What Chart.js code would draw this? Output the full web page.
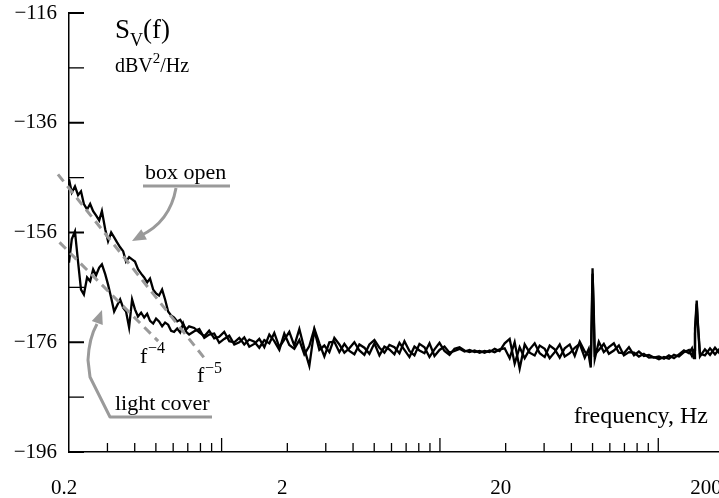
<!DOCTYPE html>
<html>
<head>
<meta charset="utf-8">
<script src="https://cdn.jsdelivr.net/npm/chart.js@4.4.1/dist/chart.umd.min.js"></script>
<style>
  html, body { margin: 0; padding: 0; background: #fff; overflow: hidden; }
  #wrap { position: relative; width: 730px; height: 498px; }
</style>
</head>
<body>
<div id="wrap"><canvas id="myChart"></canvas></div>
<script>
// frequency, Hz (shared by both traces)
const freq = [
  0.200, 0.206, 0.213, 0.220, 0.227, 0.234, 0.242, 0.250, 0.258, 0.266,
  0.275, 0.283, 0.293, 0.302, 0.312, 0.322, 0.332, 0.343, 0.354, 0.365,
  0.377, 0.389, 0.401, 0.414, 0.428, 0.442, 0.456, 0.470, 0.486, 0.501,
  0.517, 0.534, 0.551, 0.569, 0.587, 0.606, 0.626, 0.646, 0.667, 0.688, 0.710,
  0.749, 0.790, 0.833, 0.877, 0.925, 0.975, 1.028, 1.084, 1.143, 1.205,
  1.270, 1.339, 1.412, 1.488, 1.569, 1.654, 1.743, 1.838, 1.937, 2.042,
  2.153, 2.270, 2.393, 2.522, 2.659, 2.803, 2.955, 3.115, 3.284, 3.462,
  3.650, 3.848, 4.056, 4.276, 4.508, 4.752, 5.010, 5.282, 5.568, 5.870,
  6.188, 6.524, 6.877, 7.250, 7.643, 8.058, 8.495, 8.955, 9.441, 9.953,
  10.49, 11.06, 11.66, 12.30, 12.96, 13.67, 14.41, 15.19, 16.01, 16.88,
  17.80, 18.76, 19.79, 20.86, 21.99, 23.18, 24.44, 25.76, 27.16, 28.63,
  30.19, 31.82, 33.55, 35.37, 37.28, 39.31, 41.44, 43.68, 46.05,
  48.04, 49.07, 49.59, 50.0, 50.64, 51.18,
  53.4, 56.3, 59.4, 62.6, 66.0, 69.6, 73.4, 77.4, 81.5, 85.9,
  90.6, 95.5, 100.7, 106.2, 111.9, 118.0, 124.4, 131.1, 138.2,
  142.7, 145.8, 147.3, 150.0, 151.9, 155.2,
  163.6, 172.6, 181.9, 191.8, 200
];

// S_V(f), dBV^2/Hz, box open
const boxOpen = [
  -146.3, -148.7, -147.6, -149.2, -148.5, -150.8, -151.8, -150.8, -152.1, -152.9,
  -153.8, -152.1, -155.4, -157.6, -156.0, -156.9, -157.8, -158.7, -159.4, -161.3,
  -160.5, -160.9, -161.3, -162.7, -163.5, -164.2, -165.1, -164.4, -166.4, -167.1,
  -167.5, -166.4, -168.2, -170.4, -171.1, -171.5, -172.2, -171.9, -172.8, -173.7, -173.1,
  -173.4, -174.2, -174.9, -173.9, -175.3, -175.0, -174.1, -175.8, -176.0, -175.2,
  -176.4, -175.5, -175.9, -177.0, -175.6, -176.2, -174.3, -176.9, -175.5, -174.1,
  -176.6, -173.6, -177.2, -180.3, -173.8, -177.4, -176.6, -177.8, -175.2, -176.4,
  -177.9, -177.1, -176.0, -177.5, -178.3, -176.4, -175.6, -177.0, -177.9, -176.5,
  -176.9, -178.0, -175.8, -177.6, -178.4, -176.3, -176.9, -178.7, -177.3, -176.1,
  -177.6, -178.3, -177.2, -176.9, -177.5, -177.8, -177.5, -177.9, -177.6, -177.8,
  -177.2, -177.6, -176.2, -175.4, -179.9, -176.9, -178.9, -177.3, -176.2, -178.0,
  -178.7, -176.6, -177.3, -178.8, -177.1, -176.4, -178.5, -175.9, -177.7,
  -178.4, -180.6, -170.5, -162.5, -171.5, -179.0,
  -175.9, -177.8, -176.9, -176.2, -177.9, -178.0, -176.9, -178.4, -177.7, -178.5,
  -178.3, -178.8, -178.6, -179.0, -178.4, -178.9, -178.2, -177.5, -178.0,
  -177.1, -178.9, -173.5, -168.4, -173.0, -178.6,
  -177.3, -178.3, -177.0, -178.1, -177.5
];

// light cover
const lightCover = [
  -161.5, -157.2, -155.8, -161.3, -166.4, -167.3, -164.2, -164.9, -162.7, -163.8,
  -162.4, -161.8, -163.6, -165.5, -167.9, -170.4, -169.3, -168.2, -169.7, -170.4,
  -173.3, -168.2, -170.0, -171.3, -170.6, -171.5, -170.8, -172.1, -172.6, -171.7,
  -172.2, -173.1, -172.4, -172.8, -173.9, -174.1, -173.5, -174.2, -172.6, -174.1, -174.6,
  -174.0, -173.6, -175.2, -174.6, -174.4, -176.1, -175.4, -174.8, -176.4, -176.0,
  -175.1, -176.8, -176.3, -175.4, -176.9, -174.6, -175.8, -177.4, -174.4, -176.5,
  -177.2, -175.6, -178.2, -176.7, -173.5, -176.2, -178.6, -176.0, -175.9, -177.8,
  -176.3, -177.6, -178.2, -176.4, -177.0, -178.1, -176.2, -178.4, -176.8, -177.3,
  -178.2, -176.1, -177.4, -178.7, -176.8, -177.5, -178.0, -176.2, -178.5, -177.4,
  -176.8, -177.9, -177.6, -177.2, -177.7, -177.4, -177.8, -177.6, -177.9, -177.5,
  -177.8, -177.3, -177.1, -178.9, -176.0, -180.8, -176.4, -177.9, -178.4, -176.6,
  -177.2, -178.9, -177.8, -176.4, -178.6, -178.0, -177.0, -176.3, -178.8,
  -177.2, -179.8, -172.0, -163.5, -170.0, -178.2,
  -177.4, -176.3, -178.1, -177.5, -176.6, -178.4, -177.8, -177.9, -178.6, -178.1,
  -178.8, -178.7, -179.1, -178.7, -179.0, -178.3, -178.6, -177.8, -177.4,
  -178.5, -177.4, -174.5, -169.0, -172.5, -178.1,
  -178.4, -177.1, -178.2, -177.1, -177.7
];

// dashed guide lines f^-5 and f^-4
const fit5Freq = [0.178, 0.842];
const fit5Db = [-145.4, -179.1];
const fit4Freq = [0.181, 0.512];
const fit4Db = [-157.8, -175.8];

// ticks
const yTicks = [-196, -176, -156, -136, -116];
const yMinor = [-186, -166, -146, -126];
const xLabels = [0.2, 2, 20, 200];
const xDecade = [1, 10, 100];
const xMinor = [0.3, 0.4, 0.5, 0.6, 0.7, 0.8, 0.9, 2, 3, 4, 5, 6, 7, 8, 9,
  20, 30, 40, 50, 60, 70, 80, 90];

const serif = "'Liberation Serif', 'Times New Roman', serif";
const grey = '#9a9a9a';

function pts(xs, ys) {
  return xs.map((x, i) => ({ x: x, y: ys[i] }));
}

function arrowHead(ctx, fx, fy, tx, ty, size) {
  const a = Math.atan2(ty - fy, tx - fx);
  ctx.beginPath();
  ctx.moveTo(tx, ty);
  ctx.lineTo(tx - size * Math.cos(a - 0.4), ty - size * Math.sin(a - 0.4));
  ctx.lineTo(tx - size * Math.cos(a + 0.4), ty - size * Math.sin(a + 0.4));
  ctx.closePath();
  ctx.fill();
}

const decor = {
  id: 'decor',
  afterDraw(chart) {
    const ctx = chart.ctx;
    const xs = chart.scales.x;
    const ys = chart.scales.y;
    const left = chart.chartArea.left;
    const bottom = chart.chartArea.bottom;
    ctx.save();
    ctx.strokeStyle = '#000';
    ctx.fillStyle = '#000';

    // tick marks inside the plot
    ctx.lineWidth = 1.3;
    xMinor.forEach(v => {
      const px = xs.getPixelForValue(v);
      ctx.beginPath(); ctx.moveTo(px, bottom); ctx.lineTo(px, bottom - 9); ctx.stroke();
    });
    xDecade.forEach(v => {
      const px = xs.getPixelForValue(v);
      ctx.beginPath(); ctx.moveTo(px, bottom); ctx.lineTo(px, bottom - 14); ctx.stroke();
    });
    yMinor.forEach(v => {
      const py = ys.getPixelForValue(v);
      ctx.lineWidth = 1.3;
      ctx.beginPath(); ctx.moveTo(left, py); ctx.lineTo(left + 15, py); ctx.stroke();
    });
    yTicks.forEach(v => {
      const py = ys.getPixelForValue(v);
      ctx.lineWidth = 2;
      ctx.beginPath(); ctx.moveTo(left, py); ctx.lineTo(left + 15, py); ctx.stroke();
    });

    // x tick labels
    ctx.font = '21px ' + serif;
    ctx.textAlign = 'center';
    ctx.textBaseline = 'alphabetic';
    xLabels.forEach(v => {
      const px = Math.min(xs.getPixelForValue(v) - 5, chart.width - 24);
      ctx.fillText(String(v), px, 494);
    });

    // axis titles
    ctx.textAlign = 'left';
    ctx.font = '27px ' + serif;
    ctx.fillText('S', 115, 38);
    let w = ctx.measureText('S').width;
    ctx.font = '18px ' + serif;
    ctx.fillText('V', 115 + w, 46);
    w += ctx.measureText('V').width;
    ctx.font = '27px ' + serif;
    ctx.fillText('(f)', 115 + w, 38);

    ctx.font = '20px ' + serif;
    ctx.fillText('dBV', 115, 72);
    w = ctx.measureText('dBV').width;
    ctx.font = '15px ' + serif;
    ctx.fillText('2', 115 + w, 63);
    w += ctx.measureText('2').width;
    ctx.font = '20px ' + serif;
    ctx.fillText('/Hz', 115 + w, 72);

    ctx.font = '24px ' + serif;
    ctx.textAlign = 'right';
    ctx.fillText('frequency, Hz', 708, 423);

    // slope labels
    ctx.textAlign = 'left';
    ctx.font = '22px ' + serif;
    ctx.fillText('f', 140, 363);
    ctx.fillText('f', 197, 382);
    ctx.font = '16px ' + serif;
    ctx.fillText('\u22124', 148, 353);
    ctx.fillText('\u22125', 205, 373);

    // trace labels
    ctx.font = '22px ' + serif;
    ctx.fillText('box open', 145, 179);
    ctx.fillText('light cover', 115, 410);

    // grey underlines and arrows
    ctx.strokeStyle = grey;
    ctx.fillStyle = grey;
    ctx.lineWidth = 3;
    ctx.lineJoin = 'round';
    ctx.beginPath(); ctx.moveTo(143, 186); ctx.lineTo(230, 186); ctx.stroke();
    ctx.beginPath();
    ctx.moveTo(176, 188);
    ctx.quadraticCurveTo(170, 222, 140, 236);
    ctx.stroke();
    arrowHead(ctx, 152, 230, 132, 241, 15);

    ctx.beginPath();
    ctx.moveTo(212, 417);
    ctx.lineTo(110, 417);
    ctx.lineTo(90, 377);
    ctx.lineTo(88, 360);
    ctx.quadraticCurveTo(89, 338, 97, 324);
    ctx.stroke();
    arrowHead(ctx, 94, 332, 102, 310, 15);

    ctx.restore();
  }
};

const ctx = document.getElementById('myChart');
const chart = new Chart(ctx, {
  type: 'line',
  data: {
    datasets: [
      {
        data: pts(fit5Freq, fit5Db),
        borderColor: grey, borderWidth: 3, borderDash: [9, 6],
        pointRadius: 0, clip: false
      },
      {
        data: pts(fit4Freq, fit4Db),
        borderColor: grey, borderWidth: 3, borderDash: [9, 6],
        pointRadius: 0, clip: false
      },
      {
        label: 'box open',
        data: pts(freq, boxOpen),
        borderColor: '#000', borderWidth: 2.3, pointRadius: 0, tension: 0
      },
      {
        label: 'light cover',
        data: pts(freq, lightCover),
        borderColor: '#000', borderWidth: 2.3, pointRadius: 0, tension: 0
      }
    ]
  },
  options: {
    responsive: true,
    maintainAspectRatio: false,
    animation: false,
    layout: { padding: { left: 0, right: 6, top: 13, bottom: 0 } },
    plugins: {
      legend: { display: false },
      tooltip: { enabled: false }
    },
    scales: {
      x: {
        type: 'logarithmic',
        min: 0.2,
        max: 200,
        ticks: { display: false },
        grid: { drawOnChartArea: false, drawTicks: false },
        border: { color: '#000', width: 1.5 },
        afterFit: (s) => { s.height = 46; s.paddingLeft = 0; s.paddingRight = 0; }
      },
      y: {
        min: -196,
        max: -116,
        afterBuildTicks: (s) => { s.ticks = yTicks.map(v => ({ value: v })); },
        ticks: {
          color: '#000',
          padding: 12,
          font: { family: serif, size: 21 },
          callback: (v) => String(v).replace('-', '\u2212')
        },
        grid: { drawOnChartArea: false, drawTicks: false },
        border: { color: '#000', width: 1.5 },
        afterFit: (s) => { s.width = 69; s.paddingTop = 0; s.paddingBottom = 0; }
      }
    }
  },
  plugins: [decor]
});
</script>
</body>
</html>
